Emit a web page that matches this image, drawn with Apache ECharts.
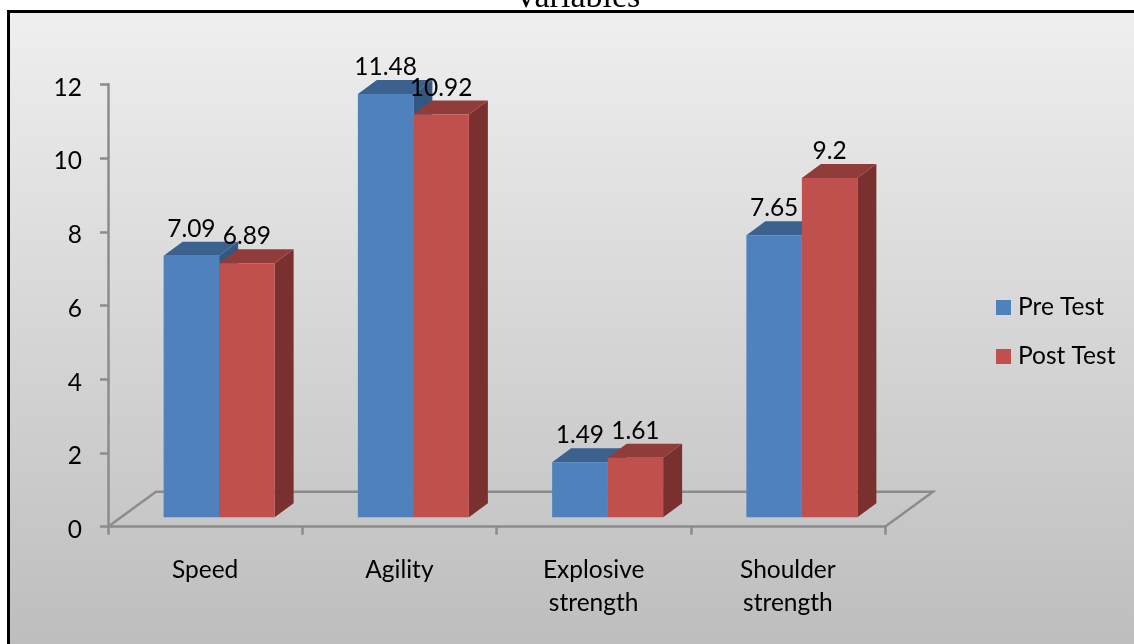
<!DOCTYPE html>
<html>
<head>
<meta charset="utf-8">
<style>html,body{margin:0;padding:0;background:#fff}#c{width:1134px;height:644px}</style>
<script src="https://cdn.jsdelivr.net/npm/echarts@6/dist/echarts.min.js"></script>
</head>
<body>
<div id="c"></div>
<script>
const categories = ['Speed', 'Agility', 'Explosive\nstrength', 'Shoulder\nstrength'];
const preTest = [7.09, 11.48, 1.49, 7.65];
const postTest = [6.89, 10.92, 1.61, 9.2];
const preLabels = ['7.09', '11.48', '1.49', '7.65'];
const postLabels = ['6.89', '10.92', '1.61', '9.2'];
const yTicks = { min: 0, max: 12, interval: 2 };

const FONT = 'Lato';
const FS = 24.5;
const DX = 19, DY = 14, LIFT = 9.5, BAR = 55.5, SHIFT = 14;
const AXIS = '#8c8c8c';

function shade(front, top, side) { return { front, top, side }; }
const blue = shade('#4f81bd', '#3b618e', '#35567e');
const red = shade('#c0504d', '#903c3a', '#7a302e');

function bar3d(pal, slot, labels) {
  return function (params, api) {
    const cat = api.value(0);
    const base = api.coord([cat, 0]);
    const tip = api.coord([cat, api.value(1)]);
    const x0 = base[0] + SHIFT + (slot === 0 ? -BAR : 0);
    const x1 = x0 + BAR;
    const yb = base[1] - LIFT;
    const yt = tip[1] - LIFT;
    return {
      type: 'group',
      children: [
        { type: 'polygon', shape: { points: [[x1, yb], [x1 + DX, yb - DY], [x1 + DX, yt - DY], [x1, yt]] }, style: { fill: pal.side } },
        { type: 'polygon', shape: { points: [[x0, yt], [x0 + DX, yt - DY], [x1 + DX, yt - DY], [x1, yt]] }, style: { fill: pal.top } },
        { type: 'rect', shape: { x: x0, y: yt, width: BAR, height: yb - yt }, style: { fill: pal.front } },
        { type: 'text', z2: 20, x: (x0 + x1) / 2, y: yt - 27, style: { text: labels[params.dataIndex], fill: '#000', font: FS + 'px ' + FONT, align: 'center', verticalAlign: 'middle' } }
      ]
    };
  };
}

function floor(params, api) {
  const cs = params.coordSys;
  const l = cs.x, r = cs.x + cs.width, b = cs.y + cs.height;
  return {
    type: 'polyline', silent: true,
    shape: { points: [[l, b], [l + 48, b - 35], [r + 48, b - 35], [r, b]] },
    style: { stroke: AXIS, lineWidth: 2.5, fill: 'none' }
  };
}

const chart = echarts.init(document.getElementById('c'), null, { renderer: 'canvas' });
chart.setOption({
  animation: false,
  backgroundColor: '#fff',
  graphic: [{
    type: 'rect', z: -10, silent: true,
    shape: { x: 8.5, y: 11.5, width: 1140, height: 650 },
    style: {
      stroke: '#000', lineWidth: 3,
      fill: { type: 'linear', x: 0, y: 0, x2: 0, y2: 1, colorStops: [{ offset: 0, color: '#efefef' }, { offset: 1, color: '#bcbcbc' }] }
    }
  }],
  title: {
    text: 'Variables', left: 572, textAlign: 'center', top: -24,
    textStyle: { fontFamily: 'Liberation Serif', fontSize: 34, fontWeight: 'normal', color: '#000' }
  },
  grid: { left: 108, right: 249, top: 84.3, bottom: 117.3 },
  legend: {
    orient: 'vertical', left: 996, top: 295, padding: 0, itemWidth: 15, itemHeight: 15, itemGap: 24,
    icon: 'rect',
    textStyle: { fontFamily: FONT, fontSize: FS, color: '#000', padding: [0, 0, 0, 2] },
    data: ['Pre Test', 'Post Test']
  },
  xAxis: {
    type: 'category', data: categories,
    axisLine: { lineStyle: { color: AXIS, width: 2.5 } },
    axisTick: { show: true, length: 8, lineStyle: { color: AXIS, width: 2.5 } },
    axisLabel: { color: '#000', fontFamily: FONT, fontSize: FS, lineHeight: 33, margin: 27, interval: 0 }
  },
  yAxis: {
    type: 'value', min: yTicks.min, max: yTicks.max, interval: yTicks.interval,
    splitLine: { show: false },
    axisLine: { show: true, lineStyle: { color: AXIS, width: 2.5 } },
    axisTick: { show: true, length: 8, lineStyle: { color: AXIS, width: 2.5 } },
    axisLabel: { color: '#000', fontFamily: FONT, fontSize: FS, margin: 26, verticalAlign: 'top', lineHeight: 7 }
  },
  series: [
    { type: 'custom', name: '__floor', silent: true, renderItem: floor, data: [[0, 0]], encode: { x: 0, y: 1 }, z: 1 },
    { type: 'custom', name: 'Pre Test', itemStyle: { color: blue.front }, renderItem: bar3d(blue, 0, preLabels),
      data: preTest.map((v, i) => [i, v]), encode: { x: 0, y: 1 }, z: 2 },
    { type: 'custom', name: 'Post Test', itemStyle: { color: red.front }, renderItem: bar3d(red, 1, postLabels),
      data: postTest.map((v, i) => [i, v]), encode: { x: 0, y: 1 }, z: 2 }
  ]
});
</script>
</body>
</html>
